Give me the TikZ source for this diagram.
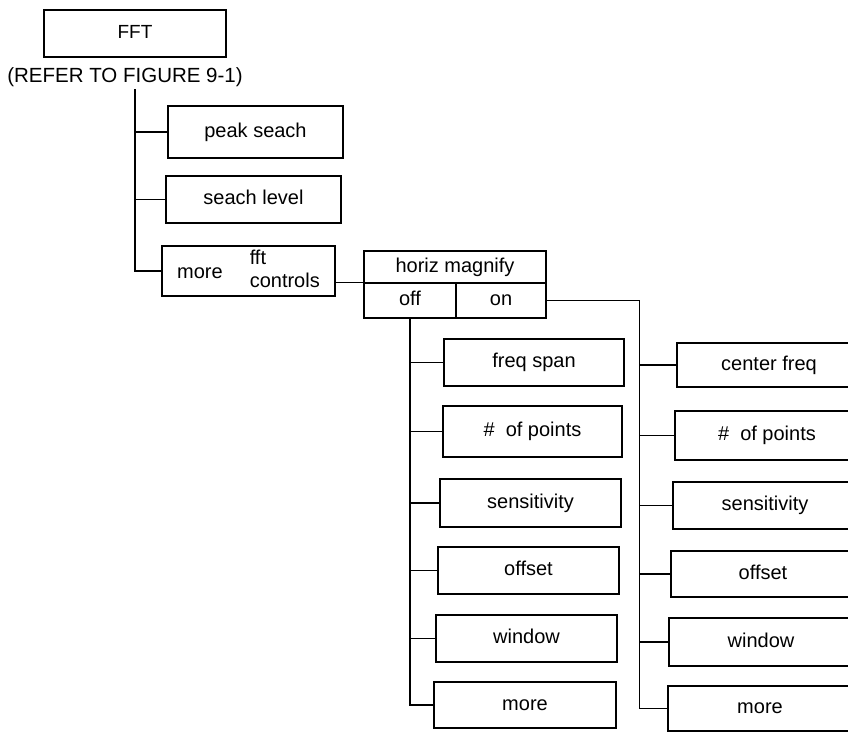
\documentclass[tikz,border=0pt]{standalone}
\usepackage{fontspec}
\setmainfont{Liberation Sans}
\begin{document}
\begin{tikzpicture}[x=1pt,y=-1pt,line width=1.4pt,
  box/.style={draw,rectangle,inner sep=0pt,text height=14.5pt,text depth=4.2pt,font=\fontsize{20}{23}\selectfont},
  lbl/.style={inner sep=0pt,font=\fontsize{20.5}{24}\selectfont}]
\useasboundingbox (0,0) rectangle (848,731);
\clip (0,0) rectangle (848,731);
% top
\node[box,minimum width=182pt,minimum height=47pt,font=\fontsize{19}{22}\selectfont] (fft) at (135,33.5) {FFT};
\node[lbl] (refer) at (125,77) {(REFER TO FIGURE 9-1)};
% first level
\node[box,minimum width=175pt,minimum height=52pt] (peak) at (255.5,132) {peak seach};
\node[box,minimum width=175pt,minimum height=47pt] (level) at (253.5,199.5) {seach level};
\node[draw,rectangle,inner sep=0pt,font=\fontsize{20}{23}\selectfont,minimum width=173pt,minimum height=50pt] (morefft) at (248.5,271)
  {\raisebox{-2pt}{more}\hspace{27pt}\begin{tabular}{@{}l@{}}fft\\controls\end{tabular}};
\coordinate (t1) at (135,89);
\draw (t1) |- (morefft.west);
\draw (t1 |- peak.west) -- (peak.west);
\draw (t1 |- level.west) -- (level.west);
% horiz magnify
\node[box,minimum width=182pt,minimum height=32pt] (hm) at (455,267) {horiz magnify};
\node[box,minimum width=92pt,minimum height=35pt] (off) at (410,300.5) {off};
\node[box,minimum width=90pt,minimum height=35pt] (on) at (501,300.5) {on};
\draw (morefft.east |- off.north west) -- (off.north west);
% left column (off)
\node[box,minimum width=180pt,minimum height=47pt] (lfs) at (534,362.5) {freq span};
\node[box,minimum width=179pt,minimum height=51pt] (lpts) at (532.5,431.5) {\#\hspace{11pt}of points};
\node[box,minimum width=181pt,minimum height=48pt] (lsens) at (530.5,503) {sensitivity};
\node[box,minimum width=181pt,minimum height=47pt] (loff) at (528.5,570.5) {offset};
\node[box,minimum width=181pt,minimum height=47pt] (lwin) at (526.5,638.5) {window};
\node[box,minimum width=182pt,minimum height=46pt] (lmore) at (525,705) {more};
\draw (off.south) |- (lmore.west);
\foreach \n in {lfs,lpts,lsens,loff,lwin}
  \draw (off.south |- \n.west) -- (\n.west);
% right column (on)
\node[box,minimum width=184pt,minimum height=44pt] (rcf) at (769,365) {center freq};
\node[box,minimum width=184pt,minimum height=49pt] (rpts) at (767,435.5) {\#\hspace{11pt}of points};
\node[box,minimum width=184pt,minimum height=47pt] (rsens) at (765,505.5) {sensitivity};
\node[box,minimum width=184pt,minimum height=46pt] (roff) at (763,574) {offset};
\node[box,minimum width=184pt,minimum height=48pt] (rwin) at (761,642) {window};
\node[box,minimum width=184pt,minimum height=45pt] (rmore) at (760,708.5) {more};
\coordinate (t3) at ([xshift=93pt]on.east);
\draw (on.east) -- (t3) |- (rmore.west);
\foreach \n in {rcf,rpts,rsens,roff,rwin}
  \draw (t3 |- \n.west) -- (\n.west);
\end{tikzpicture}
\end{document}
